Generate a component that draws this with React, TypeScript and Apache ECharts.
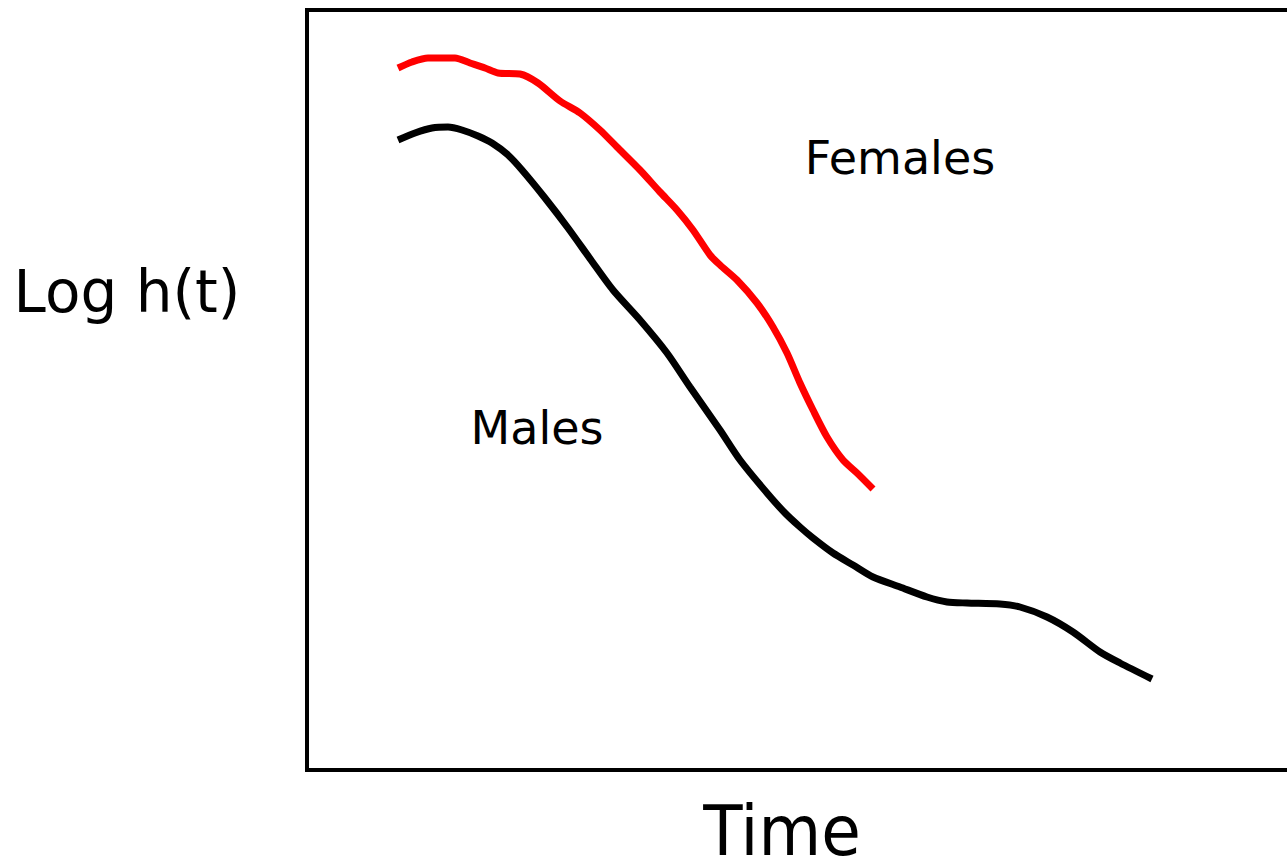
import React, { useEffect, useRef } from "react";
import * as echarts from "echarts";

// Abstract time / log-hazard units
const femalesTime = [9.1, 10.5, 12.1, 14.8, 16.3, 17.8, 19.1, 21.3, 23.1, 25.3, 27.3, 29.3, 31.0, 33.3, 35.3, 37.0, 38.6, 40.3, 41.3, 43.0, 45.0, 46.6, 48.0, 49.3, 50.6, 52.0, 53.6, 55.0, 56.6];
const femalesLogH = [70.2, 70.8, 71.2, 71.2, 70.7, 70.2, 69.7, 69.6, 68.7, 66.9, 65.7, 64.0, 62.3, 60.0, 57.8, 56.0, 54.0, 51.5, 50.5, 49.0, 46.7, 44.3, 41.7, 38.7, 36.0, 33.3, 31.0, 29.7, 28.1];

const malesTime = [9.1, 10.8, 12.5, 14.1, 15.5, 17.1, 18.5, 20.1, 21.5, 23.8, 26.1, 28.4, 30.6, 33.3, 36.0, 38.3, 41.3, 43.3, 46.0, 47.8, 49.3, 50.6, 52.6, 54.6, 56.6, 59.3, 62.0, 64.0, 66.0, 69.3, 71.3, 74.0, 76.6, 79.3, 81.3, 84.5];
const malesLogH = [63.0, 63.7, 64.2, 64.3, 64.0, 63.4, 62.7, 61.5, 60.0, 57.2, 54.2, 51.0, 48.0, 45.0, 41.7, 38.3, 34.0, 31.0, 27.7, 25.7, 24.3, 23.2, 21.7, 20.5, 19.3, 18.3, 17.3, 16.8, 16.7, 16.6, 16.3, 15.3, 13.8, 11.8, 10.7, 9.1];

const xAxisName = "Time";
const yAxisName = "Log h(t)";
const femaleLabel = "Females";
const maleLabel = "Males";

const FONT = "'DejaVu Sans', Verdana, sans-serif";

export default function App() {
  const ref = useRef<HTMLDivElement>(null);
  useEffect(() => {
    if (!ref.current) return;
    const chart = echarts.init(ref.current, undefined, { renderer: "svg" });
    const zip = (xs: number[], ys: number[]) => xs.map((x, i) => [x, ys[i]]);
    chart.setOption({
      animation: false,
      backgroundColor: "#ffffff",
      grid: {
        left: 307,
        top: 10,
        width: 990,
        height: 760,
        outerBoundsMode: "none",
        containLabel: false,
        show: false,
      },
      xAxis: {
        type: "value",
        min: 0,
        max: 99,
        show: false,
      },
      yAxis: {
        type: "value",
        min: 0,
        max: 76,
        show: false,
      },
      series: [
        {
          type: "line",
          name: femaleLabel,
          data: zip(femalesTime, femalesLogH),
          showSymbol: false,
          smooth: 0.25,
          lineStyle: { color: "#ff0000", width: 7 },
        },
        {
          type: "line",
          name: maleLabel,
          data: zip(malesTime, malesLogH),
          showSymbol: false,
          smooth: 0.25,
          lineStyle: { color: "#000000", width: 7 },
        },
      ],
      graphic: [
        {
          type: "polyline",
          shape: { points: [[1300, 10], [307, 10], [307, 770], [1300, 770]] },
          style: { stroke: "#000", lineWidth: 4, fill: null, lineJoin: "miter" },
          silent: true,
        },
        {
          type: "text",
          x: 127,
          y: 292,
          style: { text: yAxisName, fontFamily: FONT, fontSize: 58, fill: "#000", align: "center", verticalAlign: "middle" },
        },
        {
          type: "text",
          x: 782,
          y: 831,
          scaleX: 0.92,
          style: { text: xAxisName, fontFamily: FONT, fontSize: 70, fill: "#000", align: "center", verticalAlign: "middle" },
        },
        {
          type: "text",
          x: 900,
          y: 158,
          style: { text: femaleLabel, fontFamily: FONT, fontSize: 46, fill: "#000", align: "center", verticalAlign: "middle" },
        },
        {
          type: "text",
          x: 537,
          y: 428,
          style: { text: maleLabel, fontFamily: FONT, fontSize: 46, fill: "#000", align: "center", verticalAlign: "middle" },
        },
      ],
    });
    return () => chart.dispose();
  }, []);
  return (
    <div
      ref={ref}
      style={{ position: "fixed", left: 0, top: 0, width: 1287, height: 867 }}
    />
  );
}
